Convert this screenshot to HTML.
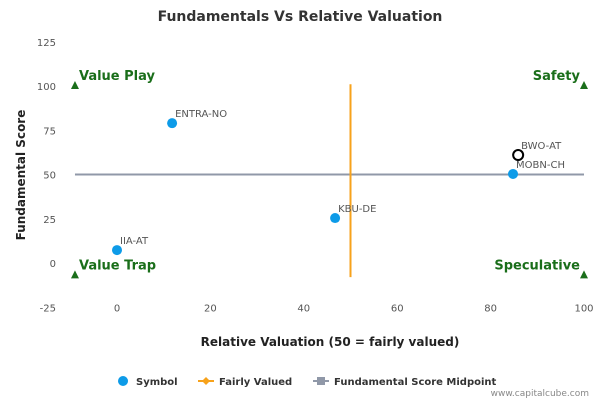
<!DOCTYPE html>
<html><head><meta charset="utf-8"><style>
body{margin:0;background:#fff;font-family:"Liberation Sans","DejaVu Sans",sans-serif;}
svg text{font-family:"DejaVu Sans","Liberation Sans",sans-serif;}
</style></head><body>
<svg id="c" width="600" height="400" xmlns="http://www.w3.org/2000/svg">
<text x="300" y="21" text-anchor="middle" font-size="14" font-weight="bold" fill="#333">Fundamentals Vs Relative Valuation</text>
<g id="plot"></g>
<text x="330" y="346" text-anchor="middle" font-size="12" font-weight="bold" fill="#222">Relative Valuation (50 = fairly valued)</text>
<text x="25" y="175" text-anchor="middle" font-size="12" font-weight="bold" fill="#222" transform="rotate(-90 25 175)">Fundamental Score</text>
<g font-size="10" font-weight="bold" fill="#333">
<g><circle cx="123" cy="381" r="5" fill="#0d9be8"/><text x="136" y="385">Symbol</text></g>
<g><line x1="198" y1="381" x2="214" y2="381" stroke="#f7a21b" stroke-width="2"/><path d="M206 377 L210 381 L206 385 L202 381Z" fill="#f7a21b"/><text x="219" y="385">Fairly Valued</text></g>
<g><line x1="313" y1="381" x2="329" y2="381" stroke="#9098a8" stroke-width="2"/><rect x="317" y="377" width="8" height="8" fill="#9098a8"/><text x="334" y="385">Fundamental Score Midpoint</text></g>
</g>
<text x="589" y="396" text-anchor="end" font-size="9" fill="#888">www.capitalcube.com</text>
</svg>
<script>
const names=["ENTRA-NO","IIA-AT","KBU-DE","MOBN-CH","BWO-AT"];
const xVals=[11.8,0,46.7,84.8,85.9];
const yVals=[79,7.3,25.4,50.3,61];
const xTicks=[0,20,40,60,80,100];
const yTicks=[-25,0,25,50,75,100,125];
const fairX=50, midY=50;
const X=v=>117+v*4.67, Y=v=>263-v*1.77;
const g=document.getElementById('plot');
const NS="http://www.w3.org/2000/svg";
function mk(t,a,txt){const e=document.createElementNS(NS,t);for(const k in a)e.setAttribute(k,a[k]);if(txt!=null)e.textContent=txt;g.appendChild(e);return e;}
yTicks.forEach(t=>{const e=mk('text',{x:56,y:Y(t)+4,'text-anchor':'end','font-size':10,fill:'#555'},t);

});
xTicks.forEach(t=>{const e=mk('text',{x:X(t),y:Y(-25)+4,'text-anchor':'middle','font-size':10,fill:'#555'},t);

});
let l=mk('line',{x1:X(-9),x2:X(100),y1:Y(midY),y2:Y(midY),stroke:'#9098a8','stroke-width':2});


l=mk('line',{x1:X(fairX),x2:X(fairX),y1:Y(101),y2:Y(-8),stroke:'#f7a21b','stroke-width':2});


const corners=[["Value Play",-9,100,'start'],["Safety",100,100,'end'],["Value Trap",-9,-7,'start'],["Speculative",100,-7,'end']];
corners.forEach(c=>{const cx=X(c[1]),cy=Y(c[2]);
const p=mk('path',{d:`M${cx} ${cy-5} L${cx+4} ${cy+3} L${cx-4} ${cy+3}Z`,fill:'#1a6e1a'});


const t=mk('text',{x:c[3]=='start'?cx+4:cx-4,y:cy-6,'text-anchor':c[3],'font-size':13,'font-weight':'bold',fill:'#1a6e1a'},c[0]);

});
names.forEach((n,i)=>{const cx=X(xVals[i]),cy=Y(yVals[i]);
const hl=n==="BWO-AT";
const c=mk('circle',{cx,cy,r:hl?5:5,fill:hl?'#fff':'#0d9be8',stroke:hl?'#000':'none','stroke-width':2});


const t=mk('text',{x:cx+3,y:cy-6,'font-size':10,fill:'#555'},n);

});
</script>
</body></html>
